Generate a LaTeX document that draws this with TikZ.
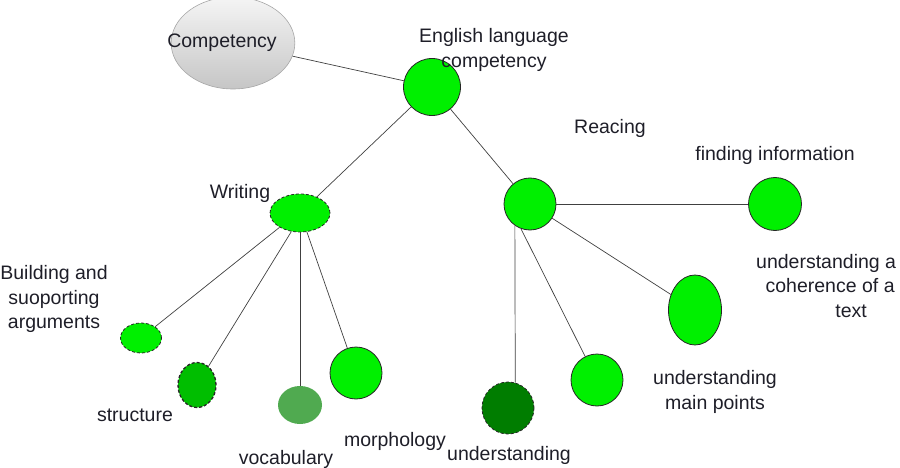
\documentclass[tikz,border=0pt]{standalone}
\usepackage{fontspec}
\setmainfont{Liberation Sans}
\usetikzlibrary{shapes.geometric}
\definecolor{bgreen}{RGB}{0,240,0}
\definecolor{dgreen}{RGB}{0,125,0}
\definecolor{mgreen}{RGB}{0,190,0}
\definecolor{vgreen}{RGB}{80,170,80}
\definecolor{txt}{RGB}{30,30,40}
\begin{document}
\begin{tikzpicture}[x=1pt,y=-1pt,
  blob/.style={ellipse,inner sep=0pt,draw=black!85,line width=0.8pt,fill=bgreen},
  dblob/.style={blob,dashed,dash pattern=on 3pt off 2pt},
  lbl/.style={text=txt,font=\fontsize{19.5}{24.5}\selectfont,align=center,inner sep=0pt},
  conn/.style={draw=black!75,line width=0.7pt}]
\useasboundingbox (0,0) rectangle (900,468);
% nodes
\node[ellipse,minimum width=123pt,minimum height=92pt,inner sep=0pt,
  top color=gray!8,bottom color=gray!45,draw=gray!70,line width=0.6pt,
  text=txt,font=\fontsize{19.5}{24.5}\selectfont] (comp) at (233,43) {\hspace*{-22pt}Competency};
\node[blob,minimum width=57pt,minimum height=57pt] (eng) at (432,87) {};
\node[dblob,minimum width=60pt,minimum height=38pt] (wri) at (300,213) {};
\node[blob,minimum width=52pt,minimum height=52pt] (rea) at (530,204) {};
\node[blob,minimum width=53pt,minimum height=53pt] (fin) at (775,204) {};
\node[blob,minimum width=53pt,minimum height=70pt] (ell) at (695,310) {};
\node[blob,minimum width=52pt,minimum height=52pt] (mai) at (597,380) {};
\node[dblob,fill=dgreen,minimum width=52pt,minimum height=52pt] (und) at (508,408) {};
\node[dblob,minimum width=41pt,minimum height=30pt] (bui) at (141,338) {};
\node[dblob,fill=mgreen,line width=1.3pt,minimum width=38pt,minimum height=45pt] (str) at (197,385) {};
\node[ellipse,inner sep=0pt,fill=vgreen,minimum width=44pt,minimum height=38pt] (voc) at (300,405) {};
\node[blob,minimum width=52pt,minimum height=52pt] (mor) at (356,373) {};
% labels
\node[lbl] (lEng) at (494,50) {English language\\competency};
\node[lbl] (lRea) at (610,128) {Reacing};
\node[lbl] (lWri) at (240,193) {Writing};
\node[lbl] (lFin) at (775,155) {finding information};
\node[lbl,anchor=west] (lCoh) at (756,286) {understanding a\\\hspace*{8pt}coherence of a\\\hspace*{50pt}text};
\node[lbl] (lMai) at (715,392) {understanding\\main points};
\node[lbl] (lUnd) at (509,455) {understanding};
\node[lbl] (lBui) at (54,299) {Building and\\suoporting\\arguments};
\node[lbl] (lStr) at (135,415) {structure};
\node[lbl] (lVoc) at (286,459) {vocabulary};
\node[lbl] (lMor) at (395,441) {morphology};
% connectors
\draw[conn] (comp) -- (eng);
\draw[conn] (eng) -- (wri);
\draw[conn] (eng) -- (rea);
\draw[conn] (rea) -- (fin);
\draw[conn] (rea) -- (ell);
\draw[conn] (rea.-110) -- (mai);
\draw[conn] (rea.-125) -- (und.74);
\draw[conn] (wri.-145) -- (bui);
\draw[conn] (wri.-115) -- (str);
\draw[conn] (wri.-90) -- (voc.north);
\draw[conn] (wri.-70) -- (mor);
\end{tikzpicture}
\end{document}
